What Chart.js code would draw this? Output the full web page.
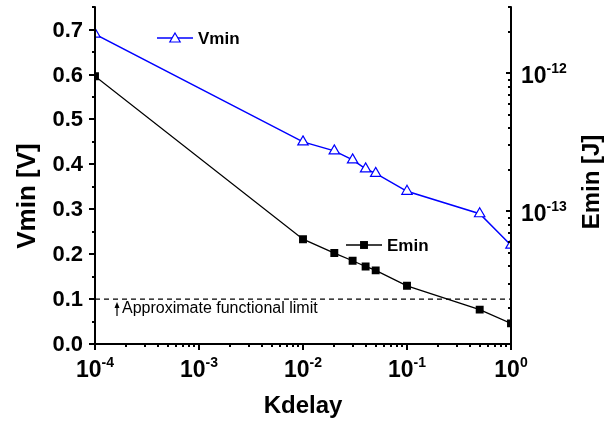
<!DOCTYPE html>
<html>
<head>
<meta charset="utf-8">
<script src="https://cdn.jsdelivr.net/npm/chart.js@4.4.1/dist/chart.umd.min.js"></script>
<style>
  html, body { margin: 0; padding: 0; background: #fff; }
</style>
</head>
<body>
<canvas id="chart" width="611" height="424"></canvas>
<script>
// values
const kdelay = [1e-4, 0.01, 0.02, 0.03, 0.04, 0.05, 0.1, 0.5, 1]
const vmin = [0.69, 0.45, 0.43, 0.41, 0.39, 0.38, 0.34, 0.29, 0.22]
const emin = [9.5e-13, 6.3e-14, 5.0e-14, 4.4e-14, 4.0e-14, 3.75e-14, 2.9e-14, 1.95e-14, 1.55e-14]
const limitV = 0.1

const xTicks = [1e-4, 1e-3, 1e-2, 1e-1, 1]
const vTicks = [0, 0.1, 0.2, 0.3, 0.4, 0.5, 0.6, 0.7]
const eTicks = [1e-12, 1e-13]

const FONT = '"Liberation Sans", Arial, sans-serif'
const BLUE = "#0000ff"

const pts = (ys) => kdelay.map((k, i) => ({ x: k, y: ys[i] }))

// "10" with a superscript exponent
function drawPow(ctx, exp, x, y, align) {
  ctx.font = "bold 23px " + FONT
  const bw = ctx.measureText("10").width
  ctx.font = "bold 14px " + FONT
  const ew = ctx.measureText(exp).width
  let sx = x
  if (align === "center") sx = x - (bw + ew) / 2
  ctx.textAlign = "left"
  ctx.textBaseline = "alphabetic"
  ctx.font = "bold 23px " + FONT
  ctx.fillText("10", sx, y)
  ctx.font = "bold 14px " + FONT
  ctx.fillText(exp, sx + bw, y - 10)
}

const axesPlugin = {
  id: "axes",
  afterDatasetsDraw(chart) {
    const { ctx, chartArea: a, scales } = chart
    const sx = scales.x, sy = scales.y, sy2 = scales.y2
    ctx.save()
    ctx.strokeStyle = "#000"
    ctx.fillStyle = "#000"
    ctx.lineWidth = 2
    ctx.lineCap = "square"

    ctx.beginPath()
    ctx.moveTo(a.left, a.top)
    ctx.lineTo(a.left, a.bottom)
    ctx.lineTo(a.right, a.bottom)
    ctx.moveTo(a.right, a.top)
    ctx.lineTo(a.right, a.bottom)
    ctx.stroke()

    ctx.lineCap = "butt"
    ctx.beginPath()
    // left axis, outward ticks every 0.05
    for (let i = 0; i <= 15; i++) {
      const p = Math.round(sy.getPixelForValue(i * 0.05))
      const len = i % 2 === 0 ? 6 : 3
      ctx.moveTo(a.left, p)
      ctx.lineTo(a.left - len, p)
    }
    // bottom axis, outward log ticks
    for (let d = -4; d <= 0; d++) {
      for (let m = 1; m <= 9; m++) {
        const v = m * Math.pow(10, d)
        if (v > 1.0001) break
        const p = Math.round(sx.getPixelForValue(v))
        ctx.moveTo(p, a.bottom)
        ctx.lineTo(p, a.bottom + (m === 1 ? 6 : 3))
      }
    }
    // right axis, inward log ticks
    for (let d = -15; d <= -12; d++) {
      for (let m = 1; m <= 9; m++) {
        const v = m * Math.pow(10, d)
        if (v < sy2.min * 0.999 || v > sy2.max * 1.001) continue
        const p = Math.round(sy2.getPixelForValue(v))
        ctx.moveTo(a.right, p)
        ctx.lineTo(a.right - (m === 1 ? 5 : 3), p)
      }
    }
    ctx.stroke()

    // tick labels
    ctx.font = "bold 22px " + FONT
    ctx.textAlign = "right"
    ctx.textBaseline = "alphabetic"
    vTicks.forEach((v) => {
      ctx.fillText(v.toFixed(1), 83, sy.getPixelForValue(v) + 7)
    })
    xTicks.forEach((v) => {
      const e = Math.round(Math.log10(v))
      drawPow(ctx, String(e), sx.getPixelForValue(v), 377, "center")
    })
    eTicks.forEach((v) => {
      const e = Math.round(Math.log10(v))
      drawPow(ctx, String(e), 521, sy2.getPixelForValue(v) + 10, "left")
    })

    // axis titles
    ctx.textAlign = "center"
    ctx.font = "bold 24px " + FONT
    ctx.fillText("Kdelay", (a.left + a.right) / 2, 413)
    ctx.textBaseline = "middle"
    ctx.save()
    ctx.translate(28, 196)
    ctx.rotate(-Math.PI / 2)
    ctx.font = "bold 26px " + FONT
    ctx.fillText("Vmin [V]", 0, 0)
    ctx.restore()
    ctx.save()
    ctx.translate(592, 182)
    ctx.rotate(-Math.PI / 2)
    ctx.font = "bold 24px " + FONT
    ctx.fillText("Emin [J]", 0, 0)
    ctx.restore()

    // legend entries
    ctx.textAlign = "left"
    ctx.textBaseline = "alphabetic"
    ctx.lineWidth = 1.5
    ctx.strokeStyle = BLUE
    ctx.beginPath()
    ctx.moveTo(157, 38)
    ctx.lineTo(193, 38)
    ctx.stroke()
    ctx.fillStyle = "#fff"
    ctx.lineWidth = 1.2
    Chart.helpers.drawPoint(ctx, { pointStyle: "triangle", radius: 6, rotation: 0, borderWidth: 1.2 }, 175, 39)
    ctx.fillStyle = "#000"
    ctx.font = "bold 17px " + FONT
    ctx.fillText("Vmin", 198, 44)

    ctx.strokeStyle = "#000"
    ctx.lineWidth = 1.3
    ctx.beginPath()
    ctx.moveTo(346, 245)
    ctx.lineTo(382, 245)
    ctx.stroke()
    Chart.helpers.drawPoint(ctx, { pointStyle: "rect", radius: 5.6, rotation: 0, borderWidth: 0 }, 364, 245)
    ctx.fillText("Emin", 387, 251)

    // functional limit note
    const ax = 117
    ctx.lineWidth = 1.2
    ctx.beginPath()
    ctx.moveTo(ax, 316)
    ctx.lineTo(ax, 306)
    ctx.stroke()
    ctx.beginPath()
    ctx.moveTo(ax, 302)
    ctx.lineTo(ax - 2.5, 308)
    ctx.lineTo(ax + 2.5, 308)
    ctx.closePath()
    ctx.fill()
    ctx.font = "16px " + FONT
    ctx.fillText("Approximate functional limit", 122, 313)

    ctx.restore()
  },
}

new Chart(document.getElementById("chart").getContext("2d"), {
  type: "line",
  data: {
    datasets: [
      {
        label: "Vmin",
        data: pts(vmin),
        yAxisID: "y",
        borderColor: BLUE,
        borderWidth: 1.5,
        pointStyle: "triangle",
        pointRadius: 6,
        pointBackgroundColor: "#fff",
        pointBorderColor: BLUE,
        pointBorderWidth: 1.2,
      },
      {
        label: "Emin",
        data: pts(emin),
        yAxisID: "y2",
        borderColor: "#000",
        borderWidth: 1.3,
        pointStyle: "rect",
        pointRadius: 5.6,
        pointBackgroundColor: "#000",
        pointBorderColor: "#000",
        pointBorderWidth: 0,
      },
      {
        label: "limit",
        data: [{ x: xTicks[0], y: limitV }, { x: xTicks[xTicks.length - 1], y: limitV }],
        yAxisID: "y",
        borderColor: "#000",
        borderWidth: 1.3,
        borderDash: [5, 4],
        pointRadius: 0,
      },
    ],
  },
  options: {
    responsive: false,
    animation: false,
    devicePixelRatio: 1,
    layout: { padding: { left: 95, right: 100, top: 5, bottom: 80 } },
    plugins: { legend: { display: false }, tooltip: { enabled: false } },
    scales: {
      x: { type: "logarithmic", min: 1e-4, max: 1, display: false },
      y: { type: "linear", min: 0, max: 0.75, display: false },
      y2: { type: "logarithmic", position: "right", min: 1.1e-14, max: 3e-12, display: false },
    },
  },
  plugins: [axesPlugin],
})
</script>
</body>
</html>
